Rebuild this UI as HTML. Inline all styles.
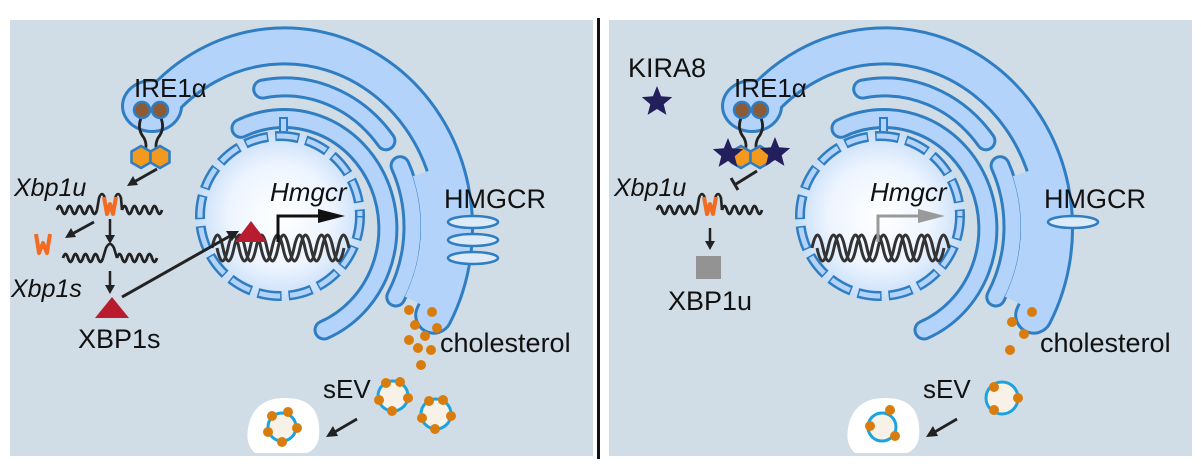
<!DOCTYPE html>
<html><head><meta charset="utf-8"><style>
html,body{margin:0;padding:0;background:#fff;}
svg{display:block;}
text{font-family:"Liberation Sans",sans-serif;fill:#111;}
.it{font-style:italic;}
</style></head><body>
<svg width="1201" height="475" viewBox="0 0 1201 475" xmlns="http://www.w3.org/2000/svg">
<defs>
<radialGradient id="nuc" cx="0.5" cy="0.5" r="0.5">
<stop offset="0" stop-color="#ffffff"/><stop offset="0.6" stop-color="#eef5ff"/><stop offset="1" stop-color="#c6ddf8"/>
</radialGradient>
<polygon id="star" points="0,-16 4.1,-5.7 15.2,-4.9 6.7,2.2 9.4,12.9 0,7 -9.4,12.9 -6.7,2.2 -15.2,-4.9 -4.1,-5.7" fill="#231f5c"/>
<g id="sq">
<path d="M0,0 q2.5,-8 5,0 t5,0 t5,0 t5,0 t5,0 t5,0 t5,0 t5,0" fill="none" stroke="#222" stroke-width="2.8"/>
</g>
<g id="base">
<!-- ER outer band -->
<ellipse cx="152" cy="106" rx="31" ry="27" fill="#2f7dc2"/>
<path d="M160,104 A170,182 0 0 1 433.7,315.2" fill="none" stroke="#2f7dc2" stroke-width="39" stroke-linecap="round"/>
<path d="M262.7,89.1 A128,140 0 0 1 385.9,140.8" fill="none" stroke="#2f7dc2" stroke-width="21" stroke-linecap="round"/>
<path d="M400.1,165.7 A128,140 0 0 1 395.8,297" fill="none" stroke="#2f7dc2" stroke-width="21" stroke-linecap="round"/>
<path d="M241,128.3 A104,110 0 1 1 324,330" fill="none" stroke="#2f7dc2" stroke-width="21" stroke-linecap="round"/>
<ellipse cx="152" cy="106" rx="28" ry="24" fill="#b3d3fa"/>
<path d="M160,104 A170,182 0 0 1 433.7,315.2" fill="none" stroke="#b3d3fa" stroke-width="33" stroke-linecap="round"/>
<path d="M421.3,173.3 A145,157 0 0 1 413,300.6" fill="none" stroke="#b3d3fa" stroke-width="18"/>
<path d="M262.7,89.1 A128,140 0 0 1 385.9,140.8" fill="none" stroke="#b3d3fa" stroke-width="15" stroke-linecap="round"/>
<path d="M400.1,165.7 A128,140 0 0 1 395.8,297" fill="none" stroke="#b3d3fa" stroke-width="15" stroke-linecap="round"/>
<path d="M241,128.3 A104,110 0 1 1 324,330" fill="none" stroke="#b3d3fa" stroke-width="15" stroke-linecap="round"/>
<!-- stem to nucleus -->
<rect x="280" y="118" width="7" height="14" fill="#b3d3fa" stroke="#2f7dc2" stroke-width="2"/>
<!-- nucleus -->
<circle cx="280" cy="216" r="85" fill="url(#nuc)"/>
<circle cx="280" cy="216" r="80" fill="none" stroke="#2f7dc2" stroke-width="10" stroke-dasharray="24 7"/>
<circle cx="280" cy="216" r="80" fill="none" stroke="#b3d3fa" stroke-width="5" stroke-dasharray="21 10" stroke-dashoffset="-1.5"/>
<!-- DNA -->
<path d="M212,248 q5.5,-26 11,0 t11,0 t11,0 t11,0 t11,0 t11,0 t11,0 t11,0 t11,0 t11,0 t11,0 t11,0" fill="none" stroke="#333" stroke-width="3"/>
<path d="M217,248 q5.5,26 11,0 t11,0 t11,0 t11,0 t11,0 t11,0 t11,0 t11,0 t11,0 t11,0 t11,0 t11,0" fill="none" stroke="#333" stroke-width="3"/>
<!-- IRE1a -->
<path d="M142,116 q-6,12 2,22 q4,8 0,14" fill="none" stroke="#222" stroke-width="2.8"/>
<path d="M160,116 q6,12 -2,22 q-4,8 0,14" fill="none" stroke="#222" stroke-width="2.8"/>
<circle cx="142" cy="110" r="8" fill="#8c5a35" stroke="#2f7dc2" stroke-width="2.5"/>
<circle cx="160" cy="110" r="8" fill="#8c5a35" stroke="#2f7dc2" stroke-width="2.5"/>
<polygon points="141,146 150.5,151.5 150.5,162.5 141,168 131.5,162.5 131.5,151.5" fill="#f39a1e" stroke="#2f7dc2" stroke-width="2.5"/>
<polygon points="160,146 169.5,151.5 169.5,162.5 160,168 150.5,162.5 150.5,151.5" fill="#f39a1e" stroke="#2f7dc2" stroke-width="2.5"/>
<!-- Xbp1u mRNA -->
<use href="#sq" x="57" y="210"/>
<use href="#sq" x="122" y="210"/>
<path d="M97,210 L99,198 q3,-8 6,0" fill="none" stroke="#222" stroke-width="2.6"/>
<path d="M115,198 q3,-8 6,0 L122,210" fill="none" stroke="#222" stroke-width="2.6"/>
<path d="M104,197 L107,214 L110,204 L113,214 L116,197" fill="none" stroke="#f26b21" stroke-width="4" stroke-linejoin="round"/>
<!-- sEV shared -->
<path d="M250,420 q8,-22 35,-22 q32,0 34,28 q2,22 -12,27 l-52,0 q-12,-10 -5,-33z" fill="#fff"/>
<circle cx="282" cy="427" r="14" fill="#f7f1e8" stroke="#1ba3e0" stroke-width="3"/>
<path d="M357,419 L333,433" stroke="#222" stroke-width="2.8"/>
<polygon points="326,437 333,426 338,436" fill="#222"/>
</g>
</defs>

<rect x="10" y="20" width="583" height="436" fill="#d1dde6"/>
<rect x="609" y="20" width="583" height="436" fill="#d1dde6"/>
<rect x="597" y="18" width="3" height="441" fill="#111"/>

<use href="#base"/>
<use href="#base" x="600"/>

<!-- LEFT PANEL -->
<text x="134" y="97" font-size="26">IRE1α</text>
<text x="14" y="196" font-size="25" class="it">Xbp1u</text>
<text x="11" y="297" font-size="25" class="it">Xbp1s</text>
<text x="78" y="348" font-size="27">XBP1s</text>
<text x="270" y="201" font-size="26" class="it">Hmgcr</text>
<text x="444" y="208" font-size="27">HMGCR</text>
<text x="440" y="352" font-size="27">cholesterol</text>
<text x="323" y="398" font-size="26">sEV</text>
<path d="M157,169 L134,182" stroke="#222" stroke-width="2.8"/><polygon points="127,186 133,176 138,185" fill="#222"/>
<path d="M94,222 L72,234" stroke="#222" stroke-width="2.8"/><polygon points="65,238 71,228 76,237" fill="#222"/>
<path d="M110,219 L110,236" stroke="#222" stroke-width="2.5"/><polygon points="105,235 115,235 110,244" fill="#222"/>
<path d="M110,271 L110,286" stroke="#222" stroke-width="2.5"/><polygon points="105,285 115,285 110,294" fill="#222"/>
<path d="M36,234 L39,253 L43,243 L47,253 L50,234" fill="none" stroke="#f26b21" stroke-width="4" stroke-linejoin="round"/>
<use href="#sq" x="63" y="258"/><use href="#sq" x="117" y="258"/>
<path d="M103,258 L106,248 q4,-8 8,0 L117,258" fill="none" stroke="#222" stroke-width="2.6"/>
<polygon points="95,318 112,297 129,318" fill="#b81c2e"/>
<path d="M122,297 L230,236" stroke="#222" stroke-width="3"/><polygon points="239,231 226,231 232,241" fill="#222"/>
<polygon points="235,242 251,221 267,242" fill="#b81c2e"/>
<path d="M278,242 L278,216 L322,216" fill="none" stroke="#111" stroke-width="3"/><polygon points="318,209 345,216 318,223" fill="#111"/>
<ellipse cx="473" cy="222" rx="25" ry="6" fill="#ddeaf7" stroke="#2f7dc2" stroke-width="2.5"/>
<ellipse cx="473" cy="240" rx="25" ry="6" fill="#ddeaf7" stroke="#2f7dc2" stroke-width="2.5"/>
<ellipse cx="473" cy="258" rx="25" ry="6" fill="#ddeaf7" stroke="#2f7dc2" stroke-width="2.5"/>
<g fill="#d97c0e">
<circle cx="409" cy="310" r="5"/><circle cx="432" cy="312" r="5"/><circle cx="415" cy="325" r="5"/><circle cx="437" cy="328" r="5"/><circle cx="425" cy="336" r="5"/><circle cx="409" cy="340" r="5"/><circle cx="418" cy="348" r="5"/><circle cx="431" cy="350" r="5"/><circle cx="421" cy="365" r="5"/>
</g>
<circle cx="393" cy="396" r="15" fill="#f7f1e8" stroke="#1ba3e0" stroke-width="3"/>
<circle cx="436" cy="414" r="15" fill="#f7f1e8" stroke="#1ba3e0" stroke-width="3"/>
<g fill="#d97c0e">
<circle cx="386" cy="383" r="5"/><circle cx="400" cy="382" r="5"/><circle cx="408" cy="398" r="5"/><circle cx="392" cy="411" r="5"/><circle cx="379" cy="400" r="5"/>
<circle cx="429" cy="401" r="5"/><circle cx="443" cy="400" r="5"/><circle cx="451" cy="416" r="5"/><circle cx="435" cy="429" r="5"/><circle cx="422" cy="418" r="5"/>
<circle cx="272" cy="416" r="5"/><circle cx="288" cy="412" r="5"/><circle cx="297" cy="428" r="5"/><circle cx="282" cy="442" r="5"/><circle cx="268" cy="432" r="5"/>
</g>

<!-- RIGHT PANEL -->
<text x="628" y="77" font-size="27">KIRA8</text>
<text x="734" y="97" font-size="26">IRE1α</text>
<text x="614" y="196" font-size="25" class="it">Xbp1u</text>
<text x="668" y="310" font-size="27">XBP1u</text>
<text x="870" y="201" font-size="26" class="it">Hmgcr</text>
<text x="1044" y="208" font-size="27">HMGCR</text>
<text x="1040" y="352" font-size="27">cholesterol</text>
<text x="923" y="398" font-size="26">sEV</text>
<use href="#star" x="657" y="102"/>
<use href="#star" x="728" y="154"/>
<use href="#star" x="775" y="153"/>
<path d="M757,171 L736,184" stroke="#222" stroke-width="3"/><path d="M731,178 L738,190" stroke="#222" stroke-width="3"/>
<path d="M710,228 L710,242" stroke="#222" stroke-width="2.5"/><polygon points="705,241 715,241 710,250" fill="#222"/>
<rect x="696" y="256" width="25" height="23" fill="#939393"/>
<path d="M878,242 L878,216 L918,216" fill="none" stroke="#9a9a9a" stroke-width="3"/><polygon points="918,209 945,216 918,223" fill="#9a9a9a"/>
<ellipse cx="1073" cy="222" rx="25" ry="6" fill="#ddeaf7" stroke="#2f7dc2" stroke-width="2.5"/>
<circle cx="1002" cy="398" r="16" fill="#f7f1e8" stroke="#1ba3e0" stroke-width="3"/>
<g fill="#d97c0e">
<circle cx="1032" cy="312" r="5"/><circle cx="1012" cy="322" r="5"/><circle cx="1024" cy="334" r="5"/><circle cx="1010" cy="350" r="5"/>
<circle cx="994" cy="387" r="5"/><circle cx="1018" cy="398" r="5"/><circle cx="994" cy="410" r="5"/>
<circle cx="890" cy="410" r="5"/><circle cx="870" cy="426" r="5"/><circle cx="895" cy="436" r="5"/>
</g>
</svg>
</body></html>
